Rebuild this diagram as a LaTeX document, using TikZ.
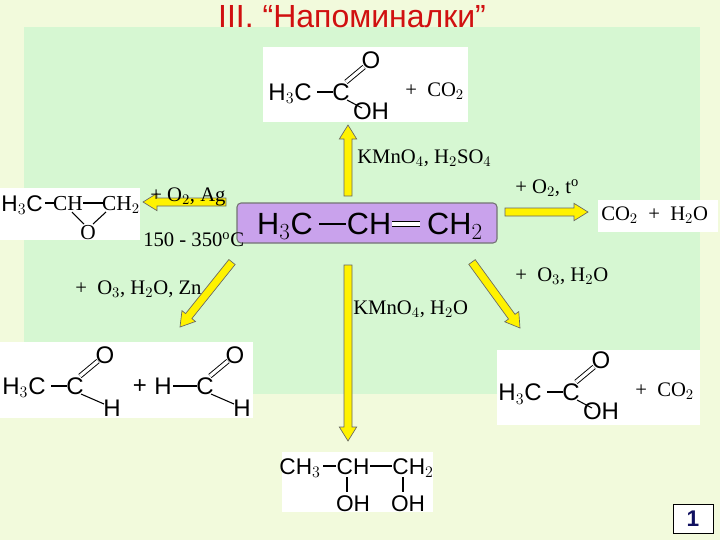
\documentclass[tikz,border=0pt]{standalone}
\usepackage{fontspec}
\setmainfont{Liberation Serif}
\setsansfont{Liberation Sans}
\usetikzlibrary{calc}
\definecolor{bgy}{HTML}{F2FADC}
\definecolor{bgg}{HTML}{D6F7D2}
\definecolor{purp}{HTML}{C9A2EC}
\definecolor{ttl}{HTML}{D01010}
\definecolor{numc}{HTML}{101060}
\tikzset{
 ch/.style={font=\sffamily\fontsize{18}{18}\selectfont, inner sep=0pt, anchor=base, yshift=-6.4pt},
 ch17/.style={font=\sffamily\fontsize{17}{17}\selectfont, inner sep=0pt, anchor=base, yshift=-6pt},
 cbig/.style={font=\sffamily\fontsize{23}{23}\selectfont, inner sep=0pt, anchor=base, yshift=-8.2pt},
 cs/.style={font=\fontsize{16}{16}\selectfont, inner sep=0pt, anchor=base, yshift=-5.3pt},
 rg/.style={font=\fontsize{15.5}{16}\selectfont, inner sep=0pt, anchor=west},
 bnd/.style={line width=0.8pt},
 dbl/.style={double, double distance=2.4pt, line width=0.7pt},
 wb/.style={fill=white, draw=none},
 yar/.style={fill=yellow, draw=black!60, line width=0.5pt, line join=miter},
}
\newcommand\yarrow[2]{%
 \coordinate (hb) at ($(#2)!10.5pt!(#1)$);
 \draw[yar] ($(#1)!3pt!90:(#2)$) -- ($(hb)!3pt!-90:(#1)$) -- ($(hb)!6.5pt!-90:(#1)$) -- (#2)
   -- ($(hb)!6.5pt!90:(#1)$) -- ($(hb)!3pt!90:(#1)$) -- ($(#1)!3pt!-90:(#2)$) -- cycle;}
\begin{document}
\begin{tikzpicture}[x=0.75pt,y=-0.75pt]
\useasboundingbox (0,0) rectangle (720,540);
\fill[bgy] (0,0) rectangle (720,540);
\fill[bgg] (24,27) rectangle (700,394);
% white boxes
\fill[wb] (263,47) rectangle (468,122);
\fill[wb] (0,188) rectangle (140,240);
\fill[wb] (598,200) rectangle (718,232);
\fill[wb] (0,342) rectangle (253,418);
\fill[wb] (497,350) rectangle (700,425);
\fill[wb] (282,452) rectangle (433,512);
% title
\node[font=\sffamily\fontsize{24}{24}\selectfont, text=ttl] (title) at (352,17) {III. “Напоминалки”};
% center
\node[draw=black!55, fill=purp, rounded corners=3pt, minimum width=195pt, minimum height=30pt, line width=0.8pt] (prop) at (367,223) {};
\node[cbig] (p1) at (285,224) {H$_3$C};
\node[cbig] (p2) at (369,224) {CH};
\node[cbig] (p3) at (455,224) {CH$_2$};
\draw[line width=1pt] (319,224) -- (346,224);
\draw[double, double distance=3pt, line width=0.9pt] (392,224) -- (420,224);
% arrows
\coordinate (u1) at (348,196); \coordinate (u2) at (348,125);
\coordinate (l1) at (226,202); \coordinate (l2) at (143,202);
\coordinate (r1c) at (505,212); \coordinate (r2c) at (588,212);
\coordinate (dl1) at (232,262); \coordinate (dl2) at (180,327);
\coordinate (d1) at (348,265); \coordinate (d2) at (348,441);
\coordinate (dr1) at (472,262); \coordinate (dr2) at (520,328);
\yarrow{u1}{u2}
\yarrow{l1}{l2}
\yarrow{r1c}{r2c}
\yarrow{dl1}{dl2}
\yarrow{d1}{d2}
\yarrow{dr1}{dr2}
% reagents
\node[rg] (r1) at (357,158) {KMnO$_4$, H$_2$SO$_4$};
\node[rg] (r2) at (150,197) {+ O$_2$, Ag};
\node[rg] (r3) at (143,240) {150 - 350$^{\mathrm o}$C};
\node[rg] (r4) at (515,188) {+ O$_2$, t$^{\mathrm o}$};
\node[rg] (r5) at (601,215) {CO$_2$ \ + \ H$_2$O};
\node[rg] (r6) at (75,289) {+ \ O$_3$, H$_2$O, Zn};
\node[rg] (r7) at (353,309) {KMnO$_4$, H$_2$O};
\node[rg] (r8) at (515,276) {+ \ O$_3$, H$_2$O};
% acids
\foreach \sx/\sy/\nm in {0/0/t, 230/300/b}{
\begin{scope}[shift={(\sx,\sy)}]
\node[ch] (h\nm) at (290,92) {H$_3$C};
\node[ch] (c\nm) at (341,92) {C};
\node[ch] (o\nm) at (371,60) {O};
\node[ch] (oh\nm) at (371,111) {OH};
\draw[bnd] (317,92) -- (333,92);
\draw[dbl] (346,82) -- (364,67);
\draw[bnd] (347,100) -- (362,108);
\node[rg] (co\nm) at (405,91) {+ \ CO$_2$};
\end{scope}}
% epoxide
\node[ch17] (e1) at (22,203) {H$_3$C};
\node[cs] (e2) at (68,203) {CH};
\node[cs] (e3) at (121,203) {CH$_2$};
\node[cs] (e4) at (88,232) {O};
\draw[bnd] (45,203) -- (54,203);
\draw[bnd] (83,203) -- (104,203);
\draw[bnd] (72,212) -- (84,224);
\draw[bnd] (106,212) -- (93,224);
% aldehydes
\node[ch] (ald1) at (24,386) {H$_3$C};
\node[ch] (ald2) at (75,386) {C};
\node[ch] (ald3) at (105,355) {O};
\node[ch] (ald4) at (112,408) {H};
\draw[bnd] (51,386) -- (67,386);
\draw[dbl] (80,376) -- (98,361);
\draw[bnd] (81,394) -- (104,404);
\node[ch] (plus) at (140,385) {+};
\node[ch] (ald5) at (163,386) {H};
\node[ch] (ald6) at (205,386) {C};
\node[ch] (ald7) at (235,355) {O};
\node[ch] (ald8) at (242,408) {H};
\draw[bnd] (173,386) -- (197,386);
\draw[dbl] (210,376) -- (228,361);
\draw[bnd] (211,394) -- (234,404);
% diol
\node[ch17] (d1n) at (300,466) {CH$_3$};
\node[ch17] (d2n) at (353,466) {CH};
\node[ch17] (d3n) at (413,466) {CH$_2$};
\node[ch17] (d4n) at (353,503) {OH};
\node[ch17] (d5n) at (408,503) {OH};
\draw[bnd] (323,466) -- (336,466);
\draw[bnd] (370,466) -- (392,466);
\draw[bnd] (347,477) -- (347,492);
\draw[bnd] (403,477) -- (403,492);
% number
\node[draw=black, fill=white, minimum width=30pt, minimum height=22pt, font=\sffamily\bfseries\fontsize{17}{17}\selectfont, text=numc] (num) at (693,519) {1};
\end{tikzpicture}
\end{document}
